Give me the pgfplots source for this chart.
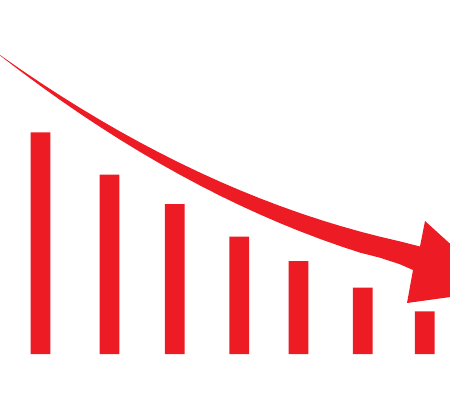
\documentclass[border=0pt]{standalone}
\usepackage{pgfplots}
\pgfplotsset{compat=1.18}
\definecolor{arrred}{RGB}{237,28,36}
\begin{document}
\begin{tikzpicture}
\begin{axis}[
  hide axis, scale only axis, width=450pt, height=400pt,
  xmin=0, xmax=450, ymin=-46, ymax=354, clip=true]
\addplot[ybar, bar width=19.7, fill=arrred, draw=none] coordinates {
  (40.5,221.7) (109.5,179.3) (174.8,150) (239.2,117.3) (298.5,93) (362.8,66.3) (424.8,42.7)};
\addplot[fill=arrred, draw=none] coordinates {
  (-3,301) (0,299) (20,285.04) (40,271.58) (60,258.6) (80,246.1) (100,234.1)
  (120,222.58) (140,211.56) (160,201.02) (180,190.96) (200,181.4) (220,172.32)
  (240,163.74) (260,155.64) (280,148.02) (300,140.9) (320,134.26) (340,128.12)
  (360,122.46) (380,117.28) (400,112.6) (420,107.5)
  (425,133) (501,64) (407,51) (413,84)
  (400,89.7) (380,96.28) (360,101.37) (340,107.97) (320,115.07) (300,122.7)
  (280,130.83) (260,139.49) (240,148.65) (220,158.31) (200,168.5) (180,179.19)
  (160,190.41) (140,202.13) (120,214.35) (100,227.1) (80,240.35) (60,254.13)
  (40,268.41) (20,283.19) (0,298.5) (-3,300.5)} -- cycle;
\end{axis}
\pgfresetboundingbox
\path (current axis.south west) rectangle (current axis.north east);
\end{tikzpicture}
\end{document}
